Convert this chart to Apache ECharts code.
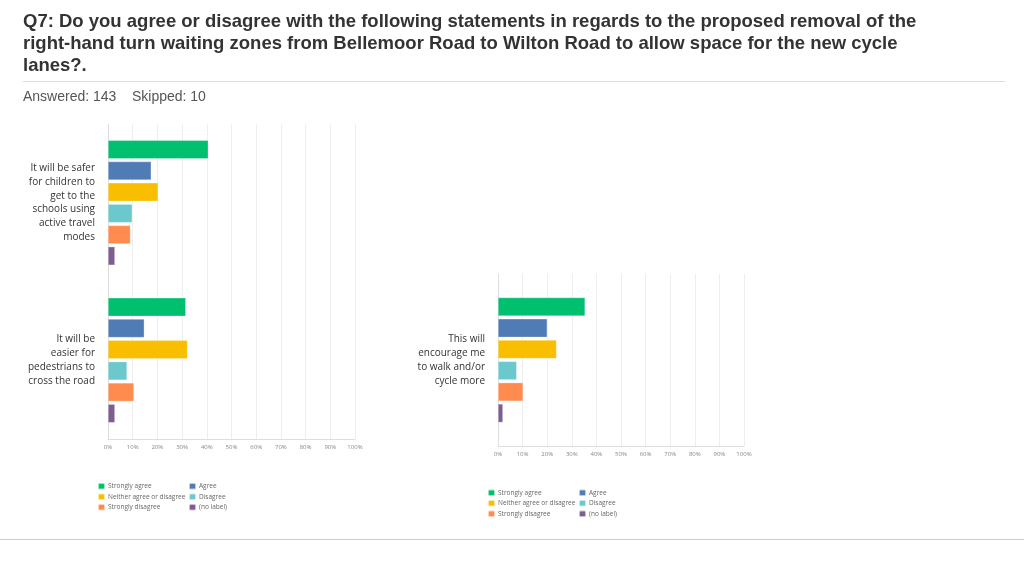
<!DOCTYPE html>
<html>
<head>
<meta charset="utf-8">
<title>Q7 chart</title>
<script src="https://cdn.jsdelivr.net/npm/echarts@6/dist/echarts.min.js"></script>
<style>
  html, body { margin: 0; padding: 0; background: #fff; }
  #main { width: 1024px; height: 576px; }
</style>
</head>
<body>
<div id="main"></div>
<script>
// statements (first two go in the left chart, last one in the right chart)
var statements = [
  'It will be safer\nfor children to\nget to the\nschools using\nactive travel\nmodes',
  'It will be\neasier for\npedestrians to\ncross the road',
  'This will\nencourage me\nto walk and/or\ncycle more'
]
var responses = ['Strongly agree', 'Agree', 'Neither agree or disagree', 'Disagree', 'Strongly disagree', '(no label)']
var colors = ['#00BF6F', '#507CB6', '#F9BE00', '#6BC8CD', '#FF8B4F', '#7D5E90']

// percent of respondents, one value per statement
var stronglyAgree = [40.6, 31.5, 35.4]
var agree = [17.5, 14.7, 20.0]
var neither = [20.3, 32.2, 23.8]
var disagree = [9.8, 7.7, 7.6]
var stronglyDisagree = [9.1, 10.5, 10.2]
var noLabel = [2.8, 2.8, 2.0]

var xTicks = [0, 10, 20, 30, 40, 50, 60, 70, 80, 90, 100]

var seriesValues = [stronglyAgree, agree, neither, disagree, stronglyDisagree, noLabel]

var chart = echarts.init(document.getElementById('main'))

function xAxisFor(gridIndex) {
  return {
    gridIndex: gridIndex,
    type: 'value',
    min: xTicks[0],
    max: xTicks[xTicks.length - 1],
    interval: xTicks[1] - xTicks[0],
    axisLine: { show: true, lineStyle: { color: '#dddddd' } },
    axisTick: { show: false },
    axisLabel: { formatter: '{value}%', fontSize: 6, color: '#888', margin: 5, fontFamily: 'Open Sans' },
    splitLine: { lineStyle: { color: '#eeeeee' } }
  }
}

function yAxisFor(gridIndex, data) {
  return {
    gridIndex: gridIndex,
    type: 'category',
    inverse: true,
    data: data,
    axisLine: { show: true, lineStyle: { color: '#dddddd' } },
    axisTick: { show: false },
    axisLabel: { fontSize: 10, lineHeight: 13.8, color: '#333', margin: 13, fontFamily: 'Open Sans', align: 'right' }
  }
}

var series = []
responses.forEach(function (name, i) {
  series.push({
    name: name,
    type: 'bar',
    xAxisIndex: 0,
    yAxisIndex: 0,
    barWidth: 18.5,
    barGap: '15%',
    data: seriesValues[i].slice(0, 2),
    itemStyle: { color: colors[i], borderColor: 'rgba(255,255,255,0.6)', borderWidth: 0.5 }
  })
  series.push({
    name: name,
    type: 'bar',
    xAxisIndex: 1,
    yAxisIndex: 1,
    barWidth: 18.5,
    barGap: '15%',
    data: seriesValues[i].slice(2),
    itemStyle: { color: colors[i], borderColor: 'rgba(255,255,255,0.6)', borderWidth: 0.5 }
  })
})

function legendFor(left, top, names) {
  return {
    orient: 'vertical',
    left: left,
    top: top,
    data: names,
    icon: 'roundRect',
    itemWidth: 7,
    itemHeight: 6.5,
    itemGap: 2,
    selectedMode: false,
    textStyle: { fontSize: 6.5, lineHeight: 7.5, color: '#666', fontFamily: 'Open Sans', padding: [0, 0, 0, -2] }
  }
}

var col1 = [responses[0], responses[2], responses[4]]
var col2 = [responses[1], responses[3], responses[5]]

var option = {
  backgroundColor: '#fff',
  animation: false,
  color: colors,
  title: [
    {
      text: 'Q7: Do you agree or disagree with the following statements in regards to the proposed removal of the\nright-hand turn waiting zones from Bellemoor Road to Wilton Road to allow space for the new cycle\nlanes?.',
      left: 18,
      top: 6.5,
      textStyle: { fontSize: 18.5, fontWeight: 'bold', color: '#333', lineHeight: 21.7, fontFamily: 'Liberation Sans, Arial, sans-serif' }
    },
    {
      text: 'Answered: 143    Skipped: 10',
      left: 18,
      top: 85,
      textStyle: { fontSize: 14, fontWeight: 'normal', color: '#555', lineHeight: 14, fontFamily: 'Liberation Sans, Arial, sans-serif' }
    }
  ],
  grid: [
    { left: 108, top: 124, width: 247, height: 315 },
    { left: 498, top: 274, width: 246, height: 172 }
  ],
  xAxis: [xAxisFor(0), xAxisFor(1)],
  yAxis: [yAxisFor(0, statements.slice(0, 2)), yAxisFor(1, statements.slice(2))],
  legend: [
    legendFor(92, 477, col1),
    legendFor(183, 477, col2),
    legendFor(482, 483.5, col1),
    legendFor(573, 483.5, col2)
  ],
  graphic: [
    { type: 'line', shape: { x1: 23, y1: 81.5, x2: 1005, y2: 81.5 }, style: { stroke: '#dddddd', lineWidth: 1 } },
    { type: 'line', shape: { x1: 0, y1: 539.5, x2: 1024, y2: 539.5 }, style: { stroke: '#cccccc', lineWidth: 1 } }
  ],
  series: series
}

chart.setOption(option)
</script>
</body>
</html>
